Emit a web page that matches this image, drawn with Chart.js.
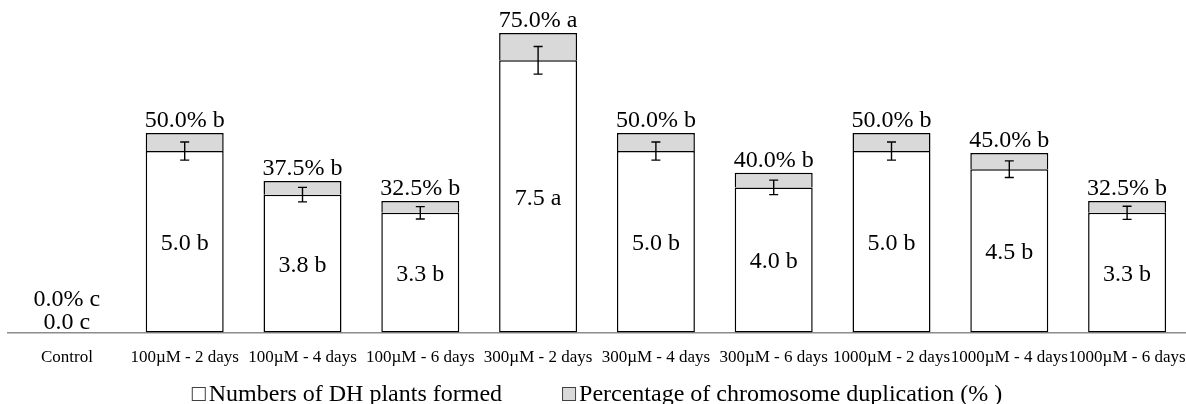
<!DOCTYPE html>
<html>
<head>
<meta charset="utf-8">
<script src="https://cdn.jsdelivr.net/npm/chart.js@4/dist/chart.umd.min.js"></script>
<style>
  html, body { margin: 0; padding: 0; background: #fff; }
  #wrap { width: 1186px; height: 404px; position: relative; }
</style>
</head>
<body>
<div id="wrap"><canvas id="c" width="1186" height="404"></canvas></div>
<script>
// ---- data ----
const categories = ["Control", "100µM - 2 days", "100µM - 4 days", "100µM - 6 days", "300µM - 2 days", "300µM - 4 days", "300µM - 6 days", "1000µM - 2 days", "1000µM - 4 days", "1000µM - 6 days"];
const dhPlants = [0.0, 5.0, 3.8, 3.3, 7.5, 5.0, 4.0, 5.0, 4.5, 3.3];
const dhLetters = ["c", "b", "b", "b", "a", "b", "b", "b", "b", "b"];
const dupPercent = [0.0, 50.0, 37.5, 32.5, 75.0, 50.0, 40.0, 50.0, 45.0, 32.5];
const dupLetters = ["c", "b", "b", "b", "a", "b", "b", "b", "b", "b"];
const dhError = [0, 0.25, 0.2, 0.17, 0.38, 0.25, 0.2, 0.25, 0.23, 0.18];
const seriesNames = ["Numbers of DH plants formed", "Percentage of chromosome duplication (% )"];

const FONT = "'Liberation Serif', 'Times New Roman', serif";

// error bars, value labels, legend
const overlay = {
  id: 'overlay',
  afterDatasetsDraw(chart) {
    const ctx = chart.ctx;
    const y = chart.scales.y;
    const m0 = chart.getDatasetMeta(0);
    const m1 = chart.getDatasetMeta(1);
    const base = y.getPixelForValue(0);
    ctx.save();
    // error bars
    ctx.strokeStyle = '#000';
    ctx.lineWidth = 1.4;
    m0.data.forEach((bar, i) => {
      if (!dhError[i]) return;
      const x = bar.x;
      const yt = y.getPixelForValue(dhPlants[i] + dhError[i]);
      const yb = y.getPixelForValue(dhPlants[i] - dhError[i]);
      ctx.beginPath();
      ctx.moveTo(x, yt); ctx.lineTo(x, yb);
      ctx.moveTo(x - 4.5, yt); ctx.lineTo(x + 4.5, yt);
      ctx.moveTo(x - 4.5, yb); ctx.lineTo(x + 4.5, yb);
      ctx.stroke();
    });
    // labels
    ctx.fillStyle = '#000';
    ctx.font = '24px ' + FONT;
    ctx.textAlign = 'center';
    ctx.textBaseline = 'alphabetic';
    m0.data.forEach((bar, i) => {
      const v = dhPlants[i];
      const top1 = y.getPixelForValue(v);
      const cb = v > 0 ? (top1 + base) / 2 + 8.5 : base - 4;
      ctx.fillText(v.toFixed(1) + ' ' + dhLetters[i], bar.x, cb);
      const top2 = m1.data[i].y;
      const pb = Math.min(top2 - 6, cb - 23);
      ctx.fillText(dupPercent[i].toFixed(1) + '% ' + dupLetters[i], bar.x, pb);
    });
    ctx.restore();
  },
  afterDraw(chart) {
    const ctx = chart.ctx;
    const ca = chart.chartArea;
    ctx.save();
    ctx.font = '24px ' + FONT;
    const box = 13, gap = 4, between = 60;
    const ds = chart.data.datasets;
    const widths = ds.map(d => ctx.measureText(d.label).width);
    let total = 0;
    widths.forEach((w, i) => { total += box + gap + w + (i ? between : 0); });
    let x = (ca.left + ca.right) / 2 - total / 2;
    const baseY = 401;
    ds.forEach((d, i) => {
      ctx.fillStyle = d.backgroundColor;
      ctx.fillRect(x + 0.5, baseY - 13.5, box, box);
      ctx.strokeStyle = '#404040';
      ctx.lineWidth = 1;
      ctx.strokeRect(x + 0.5, baseY - 13.5, box, box);
      ctx.fillStyle = '#000';
      ctx.textAlign = 'left';
      ctx.textBaseline = 'alphabetic';
      ctx.fillText(d.label, x + box + gap, baseY);
      x += box + gap + widths[i] + between;
    });
    ctx.restore();
  }
};

new Chart(document.getElementById('c'), {
  type: 'bar',
  data: {
    labels: categories,
    datasets: [
      { label: seriesNames[0], data: dhPlants, backgroundColor: '#ffffff', borderColor: '#000', borderWidth: 1.5, borderSkipped: false },
      { label: seriesNames[1], data: dupPercent.map(p => p / 100), backgroundColor: '#d9d9d9', borderColor: '#000', borderWidth: 1.5, borderSkipped: 'bottom' }
    ]
  },
  options: {
    responsive: false,
    animation: false,
    devicePixelRatio: 1,
    layout: { padding: { left: 8, right: 0, top: 24, bottom: 21 } },
    datasets: { bar: { categoryPercentage: 1, barPercentage: 0.662 } },
    plugins: { legend: { display: false }, tooltip: { enabled: false } },
    scales: {
      x: {
        stacked: true,
        grid: { display: false, drawTicks: false },
        border: { display: true, color: '#8c8c8c', width: 1.5 },
        ticks: { color: '#000', font: { family: FONT, size: 17 }, padding: 15, autoSkip: false, maxRotation: 0, minRotation: 0 },
        afterFit(scale) { scale.paddingLeft = 0; scale.paddingRight = 0; }
      },
      y: {
        stacked: true, display: false, min: 0, max: 8.5
      }
    }
  },
  plugins: [overlay]
});
</script>
</body>
</html>
